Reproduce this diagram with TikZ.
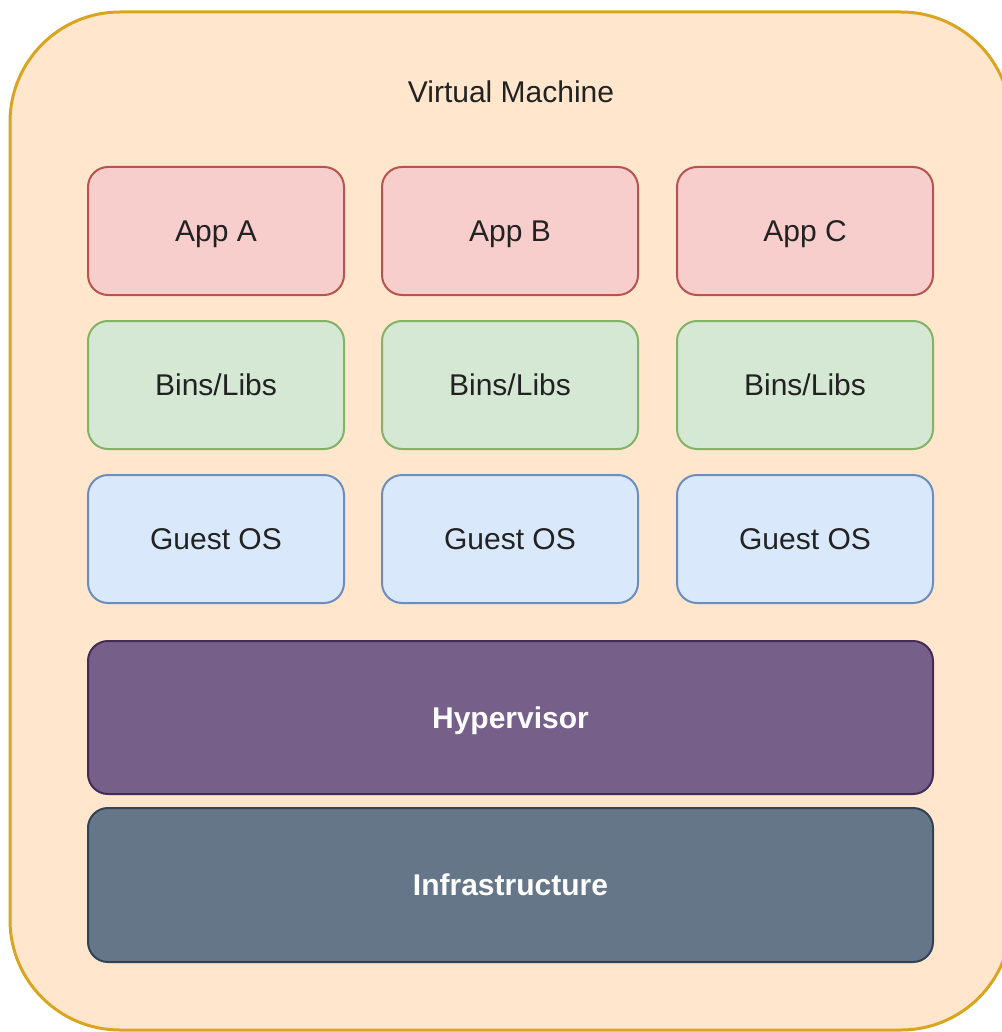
\documentclass[tikz,border=0pt]{standalone}
\usepackage{fontspec}
\setmainfont{Liberation Sans}
\definecolor{vmfill}{HTML}{FFE6CC}
\definecolor{vmline}{HTML}{D9A520}
\definecolor{appfill}{HTML}{F8CECC}
\definecolor{appline}{HTML}{B85450}
\definecolor{libfill}{HTML}{D5E8D4}
\definecolor{libline}{HTML}{82B366}
\definecolor{osfill}{HTML}{DAE8FC}
\definecolor{osline}{HTML}{6C8EBF}
\definecolor{hypfill}{HTML}{76608A}
\definecolor{hypline}{HTML}{432D57}
\definecolor{infrafill}{HTML}{647687}
\definecolor{infraline}{HTML}{314354}
\definecolor{txt}{HTML}{222222}

\begin{document}
\begin{tikzpicture}[x=0.5pt,y=-0.5pt,
    every node/.style={font=\fontsize{15}{18}\selectfont,text=txt,text height=10.7pt,text depth=0pt},
    layer/.style={draw,line width=1pt,rounded corners=10pt,minimum width=128pt,minimum height=64pt},
    appbox/.style={layer,fill=appfill,draw=appline},
    libbox/.style={layer,fill=libfill,draw=libline},
    osbox/.style={layer,fill=osfill,draw=osline},
    wide/.style={layer,minimum width=422.5pt,minimum height=77pt,text=white,font=\fontsize{15}{18}\selectfont\bfseries}]
                        \useasboundingbox (0,0) rectangle (1001,1032);
                        % outer frame
                        \draw [fill=vmfill,draw=vmline,line width=1.5pt,rounded corners=55pt] (10,12) rectangle (1011,1030);
                        \node (vm) at (511,92) {Virtual Machine};
                        % apps
                        \node [appbox] (appa) at (216,231) {App A};
                        \node [appbox] (appb) at (510,231) {App B};
                        \node [appbox] (appc) at (805,231) {App C};
                        % libraries
                        \node [libbox] (liba) at (216,385) {Bins/Libs};
                        \node [libbox] (libb) at (510,385) {Bins/Libs};
                        \node [libbox] (libc) at (805,385) {Bins/Libs};
                        % guests
                        \node [osbox] (osa) at (216,539) {Guest OS};
                        \node [osbox] (osb) at (510,539) {Guest OS};
                        \node [osbox] (osc) at (805,539) {Guest OS};
                        % lower layers
                        \node [wide,fill=hypfill,draw=hypline,minimum height=76.5pt] (hyper) at (510.5,717.5) {Hypervisor};
                        \node [wide,fill=infrafill,draw=infraline] (infra) at (510.5,885) {Infrastructure};
                    \end{tikzpicture}
\end{document}
